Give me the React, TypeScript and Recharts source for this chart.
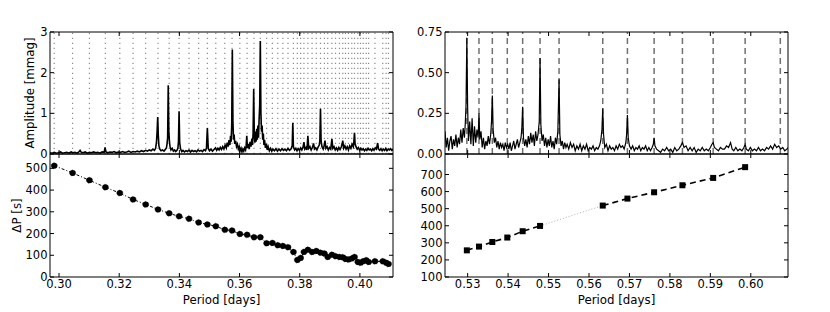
import React from 'react';
import { ComposedChart, Line, XAxis, YAxis, ReferenceLine } from 'recharts';

const FONT = '"DejaVu Sans", sans-serif';

// ---- left panel (P ~ 0.30-0.41 d) ----
const leftPeriods = [
  0.2984, 0.3045, 0.3101, 0.3154, 0.3202, 0.3246, 0.3288, 0.3329, 0.3366, 0.3399,
  0.3432, 0.3464, 0.3493, 0.3521, 0.3551, 0.3575, 0.3601, 0.3625, 0.3648, 0.3669,
  0.369, 0.3709, 0.3727, 0.3744, 0.3761, 0.3779, 0.3792, 0.3803, 0.3814, 0.3827,
  0.3841, 0.3855, 0.3869, 0.3882, 0.3893, 0.3907, 0.3919, 0.3932, 0.3943, 0.3952,
  0.3962, 0.3973, 0.3982, 0.3993, 0.4002, 0.4011, 0.4021, 0.4029, 0.405, 0.4076,
  0.4087, 0.4095,
];
const leftSpacings = [
  512, 479, 445, 413, 386, 357, 334, 311, 293, 279,
  268, 251, 242, 234, 217, 214, 198, 194, 183, 183,
  155, 157, 146, 143, 137, 115, 78, 88, 115, 125,
  115, 120, 112, 108, 92, 102, 96, 92, 91, 83,
  80, 85, 92, 69, 65, 72, 77, 69, 72, 72,
  66, 60,
];
const leftXTicks = [0.3, 0.32, 0.34, 0.36, 0.38, 0.4];
const leftAmpTicks = [0, 1, 2, 3];
const leftDpTicks = [0, 100, 200, 300, 400, 500];

// amplitude spectrum [period, mmag]
const leftSpectrum: [number, number][] = [
  [0.297, 0.03], [0.2977, 0.02], [0.2984, 0.04], [0.2991, 0.02], [0.2998, 0.03], [0.3005, 0.05],
  [0.3012, 0.02], [0.3019, 0.03], [0.3026, 0.04], [0.3033, 0.02], [0.304, 0.05], [0.3046, 0.03],
  [0.3053, 0.04], [0.306, 0.02], [0.3066, 0.05], [0.307, 0.09], [0.3074, 0.04], [0.308, 0.03],
  [0.3087, 0.05], [0.3094, 0.02], [0.3101, 0.04], [0.3108, 0.03], [0.3115, 0.05], [0.3122, 0.03],
  [0.3129, 0.04], [0.3136, 0.02], [0.3143, 0.05], [0.315, 0.04], [0.3153, 0.16], [0.3156, 0.05],
  [0.3162, 0.03], [0.3169, 0.05], [0.3176, 0.04], [0.3183, 0.06], [0.319, 0.03], [0.3197, 0.05],
  [0.3204, 0.04], [0.3211, 0.06], [0.3218, 0.04], [0.3225, 0.05], [0.3232, 0.07], [0.3239, 0.04],
  [0.3246, 0.06], [0.3253, 0.05], [0.326, 0.07], [0.3267, 0.05], [0.3274, 0.08], [0.3281, 0.06],
  [0.3288, 0.09], [0.3294, 0.07], [0.33, 0.1], [0.3306, 0.08], [0.3312, 0.12], [0.3317, 0.09],
  [0.3321, 0.14], [0.3324, 0.3], [0.3326, 0.55], [0.3328, 0.91], [0.333, 0.45], [0.3332, 0.2],
  [0.3335, 0.12], [0.3339, 0.08], [0.3344, 0.1], [0.3349, 0.07], [0.3353, 0.11], [0.3357, 0.15],
  [0.3359, 0.25], [0.3361, 0.4], [0.3363, 1.69], [0.3365, 0.55], [0.3367, 0.3], [0.3369, 0.18],
  [0.3372, 0.1], [0.3376, 0.14], [0.338, 0.07], [0.3384, 0.1], [0.3388, 0.06], [0.3392, 0.09],
  [0.3395, 0.14], [0.3397, 0.3], [0.3399, 1.05], [0.3401, 0.28], [0.3404, 0.12], [0.3408, 0.06],
  [0.3412, 0.09], [0.3417, 0.05], [0.3422, 0.08], [0.3427, 0.06], [0.3432, 0.1], [0.3437, 0.05],
  [0.3442, 0.09], [0.3447, 0.06], [0.3452, 0.08], [0.3457, 0.05], [0.3462, 0.1], [0.3467, 0.07],
  [0.3472, 0.09], [0.3477, 0.06], [0.3482, 0.11], [0.3487, 0.08], [0.349, 0.15], [0.3493, 0.64],
  [0.3496, 0.14], [0.35, 0.08], [0.3505, 0.12], [0.351, 0.07], [0.3515, 0.11], [0.352, 0.15],
  [0.3524, 0.09], [0.3528, 0.14], [0.3532, 0.1], [0.3536, 0.16], [0.354, 0.11], [0.3544, 0.18],
  [0.3548, 0.12], [0.3552, 0.22], [0.3556, 0.15], [0.3559, 0.28], [0.3562, 0.18], [0.3565, 0.34],
  [0.3568, 0.22], [0.357, 0.45], [0.3572, 0.3], [0.3574, 0.7], [0.3576, 2.57], [0.3578, 0.8],
  [0.358, 0.35], [0.3582, 0.48], [0.3584, 0.25], [0.3587, 0.32], [0.359, 0.18], [0.3593, 0.24],
  [0.3596, 0.12], [0.3599, 0.18], [0.3602, 0.08], [0.3605, 0.14], [0.3608, 0.05], [0.3611, 0.12],
  [0.3614, 0.07], [0.3617, 0.15], [0.362, 0.1], [0.3622, 0.2], [0.3624, 0.45], [0.3626, 0.15],
  [0.3629, 0.25], [0.3632, 0.12], [0.3635, 0.3], [0.3638, 0.18], [0.3641, 0.38], [0.3643, 0.22],
  [0.3645, 0.5], [0.3647, 1.6], [0.3649, 0.45], [0.3651, 0.28], [0.3653, 0.55], [0.3655, 0.3],
  [0.3657, 0.62], [0.3659, 0.35], [0.3661, 0.7], [0.3663, 0.4], [0.3665, 0.85], [0.3667, 1.2],
  [0.3669, 2.78], [0.3671, 1.0], [0.3673, 0.55], [0.3675, 0.7], [0.3677, 0.35], [0.3679, 0.5],
  [0.3681, 0.22], [0.3683, 0.35], [0.3686, 0.15], [0.3689, 0.25], [0.3692, 0.1], [0.3695, 0.18],
  [0.3699, 0.08], [0.3703, 0.14], [0.3707, 0.07], [0.3711, 0.12], [0.3716, 0.08], [0.3721, 0.13],
  [0.3726, 0.07], [0.3731, 0.12], [0.3736, 0.08], [0.3741, 0.13], [0.3746, 0.09], [0.3751, 0.12],
  [0.3756, 0.08], [0.3761, 0.14], [0.3766, 0.09], [0.3771, 0.12], [0.3775, 0.2], [0.3777, 0.77],
  [0.3779, 0.18], [0.3783, 0.1], [0.3787, 0.14], [0.3791, 0.08], [0.3795, 0.13], [0.3799, 0.09],
  [0.3803, 0.15], [0.3807, 0.1], [0.3811, 0.17], [0.3814, 0.29], [0.3817, 0.12], [0.3821, 0.16],
  [0.3824, 0.1], [0.3827, 0.45], [0.383, 0.14], [0.3834, 0.18], [0.3838, 0.1], [0.3842, 0.16],
  [0.3846, 0.26], [0.3849, 0.12], [0.3853, 0.15], [0.3857, 0.1], [0.3861, 0.17], [0.3865, 0.22],
  [0.3867, 0.35], [0.3869, 1.11], [0.3871, 0.32], [0.3874, 0.18], [0.3878, 0.12], [0.3881, 0.2],
  [0.3884, 0.33], [0.3887, 0.14], [0.3891, 0.18], [0.3895, 0.1], [0.3899, 0.16], [0.3903, 0.12],
  [0.3907, 0.37], [0.391, 0.14], [0.3914, 0.18], [0.3918, 0.1], [0.3922, 0.15], [0.3926, 0.09],
  [0.393, 0.16], [0.3934, 0.11], [0.3938, 0.17], [0.3941, 0.25], [0.3943, 0.33], [0.3946, 0.14],
  [0.395, 0.2], [0.3954, 0.12], [0.3958, 0.18], [0.3962, 0.1], [0.3966, 0.2], [0.397, 0.14],
  [0.3974, 0.24], [0.3978, 0.18], [0.398, 0.3], [0.3982, 0.52], [0.3984, 0.25], [0.3987, 0.18],
  [0.3991, 0.12], [0.3995, 0.16], [0.3999, 0.09], [0.4003, 0.14], [0.4007, 0.1], [0.4011, 0.13],
  [0.4015, 0.08], [0.4019, 0.12], [0.4023, 0.09], [0.4027, 0.14], [0.4031, 0.1], [0.4035, 0.12],
  [0.4039, 0.08], [0.4043, 0.13], [0.4047, 0.09], [0.4051, 0.15], [0.4055, 0.12], [0.4059, 0.27],
  [0.4062, 0.12], [0.4066, 0.09], [0.407, 0.13], [0.4074, 0.08], [0.4078, 0.12], [0.4082, 0.09],
  [0.4086, 0.14], [0.409, 0.08], [0.4094, 0.12], [0.4098, 0.1], [0.4102, 0.13], [0.4106, 0.09],
  [0.411, 0.12],
];

// ---- right panel (P ~ 0.52-0.61 d) ----
const rightModeLines = [
  0.5298, 0.5328, 0.5361, 0.5398, 0.5436, 0.5479, 0.5526,
  0.5634, 0.5695, 0.5761, 0.5831, 0.5907, 0.5986, 0.6073,
];
const rightPeriods = [
  0.5298, 0.5328, 0.5361, 0.5398, 0.5436, 0.5479,
  0.5634, 0.5695, 0.5761, 0.5831, 0.5907, 0.5986,
];
const rightSpacings = [256, 278, 305, 331, 368, 399, 518, 559, 596, 637, 680, 743];
const rightXTicks = [0.53, 0.54, 0.55, 0.56, 0.57, 0.58, 0.59, 0.6];
const rightAmpTicks = [0, 0.25, 0.5, 0.75];
const rightDpTicks = [100, 200, 300, 400, 500, 600, 700];

const rightSpectrum: [number, number][] = [
  [0.5244, 0.14], [0.5247, 0.04], [0.525, 0.1], [0.5253, 0.02], [0.5256, 0.08], [0.5259, 0.11],
  [0.5262, 0.03], [0.5265, 0.09], [0.5268, 0.05], [0.5271, 0.12], [0.5274, 0.04], [0.5277, 0.1],
  [0.528, 0.06], [0.5283, 0.15], [0.5286, 0.07], [0.5289, 0.16], [0.5292, 0.1], [0.5294, 0.18],
  [0.5296, 0.3], [0.5298, 0.715], [0.53, 0.28], [0.5302, 0.08], [0.5305, 0.2], [0.5308, 0.06],
  [0.5311, 0.22], [0.5314, 0.05], [0.5317, 0.17], [0.532, 0.07], [0.5323, 0.15], [0.5326, 0.1],
  [0.5328, 0.25], [0.533, 0.09], [0.5333, 0.14], [0.5336, 0.04], [0.5339, 0.1], [0.5342, 0.03],
  [0.5345, 0.08], [0.5348, 0.05], [0.5351, 0.11], [0.5354, 0.06], [0.5357, 0.12], [0.5359, 0.2],
  [0.5361, 0.36], [0.5363, 0.15], [0.5366, 0.07], [0.5369, 0.1], [0.5372, 0.04], [0.5375, 0.08],
  [0.5378, 0.03], [0.5381, 0.07], [0.5384, 0.04], [0.5387, 0.06], [0.539, 0.02], [0.5393, 0.07],
  [0.5396, 0.04], [0.5399, 0.06], [0.5402, 0.03], [0.5405, 0.07], [0.5408, 0.02], [0.5411, 0.05],
  [0.5414, 0.08], [0.5417, 0.03], [0.542, 0.06], [0.5423, 0.09], [0.5426, 0.04], [0.5429, 0.07],
  [0.5432, 0.1], [0.5434, 0.16], [0.5436, 0.29], [0.5438, 0.1], [0.5441, 0.05], [0.5444, 0.09],
  [0.5447, 0.04], [0.545, 0.11], [0.5453, 0.06], [0.5456, 0.13], [0.5459, 0.07], [0.5462, 0.12],
  [0.5465, 0.05], [0.5468, 0.14], [0.5471, 0.08], [0.5474, 0.12], [0.5477, 0.2], [0.5479, 0.59],
  [0.5481, 0.18], [0.5484, 0.08], [0.5487, 0.12], [0.549, 0.05], [0.5493, 0.1], [0.5496, 0.04],
  [0.5499, 0.09], [0.5502, 0.05], [0.5505, 0.11], [0.5508, 0.04], [0.5511, 0.08], [0.5514, 0.03],
  [0.5517, 0.1], [0.552, 0.06], [0.5523, 0.14], [0.5526, 0.46], [0.5528, 0.12], [0.5531, 0.05],
  [0.5534, 0.08], [0.5537, 0.03], [0.554, 0.07], [0.5543, 0.04], [0.5546, 0.06], [0.555, 0.03],
  [0.5554, 0.07], [0.5558, 0.04], [0.5562, 0.06], [0.5566, 0.02], [0.557, 0.05], [0.5574, 0.03],
  [0.5578, 0.06], [0.5582, 0.02], [0.5586, 0.05], [0.559, 0.03], [0.5594, 0.06], [0.5598, 0.02],
  [0.5602, 0.04], [0.5606, 0.03], [0.561, 0.05], [0.5614, 0.02], [0.5618, 0.04], [0.5622, 0.03],
  [0.5626, 0.05], [0.5629, 0.08], [0.5632, 0.15], [0.5634, 0.28], [0.5636, 0.12], [0.5639, 0.04],
  [0.5643, 0.06], [0.5647, 0.02], [0.5651, 0.05], [0.5655, 0.03], [0.5659, 0.04], [0.5663, 0.02],
  [0.5667, 0.05], [0.5671, 0.03], [0.5675, 0.06], [0.5679, 0.04], [0.5683, 0.05], [0.5687, 0.03],
  [0.5691, 0.07], [0.5693, 0.12], [0.5695, 0.24], [0.5697, 0.1], [0.57, 0.05], [0.5704, 0.03],
  [0.5708, 0.05], [0.5712, 0.02], [0.5716, 0.04], [0.572, 0.03], [0.5724, 0.05], [0.5728, 0.02],
  [0.5732, 0.04], [0.5736, 0.03], [0.574, 0.05], [0.5744, 0.02], [0.5748, 0.04], [0.5752, 0.02],
  [0.5756, 0.04], [0.5759, 0.06], [0.5761, 0.1], [0.5763, 0.05], [0.5767, 0.03], [0.5772, 0.02],
  [0.5777, 0.01], [0.5782, 0.03], [0.5787, 0.02], [0.5792, 0.04], [0.5797, 0.02], [0.5802, 0.03],
  [0.5807, 0.01], [0.5812, 0.04], [0.5817, 0.02], [0.5822, 0.03], [0.5827, 0.05], [0.5831, 0.07],
  [0.5835, 0.04], [0.584, 0.05], [0.5845, 0.02], [0.585, 0.04], [0.5855, 0.02], [0.586, 0.04],
  [0.5865, 0.01], [0.587, 0.03], [0.5875, 0.02], [0.588, 0.04], [0.5885, 0.02], [0.589, 0.03],
  [0.5895, 0.02], [0.59, 0.04], [0.5904, 0.06], [0.5907, 0.07], [0.591, 0.04], [0.5915, 0.03],
  [0.592, 0.02], [0.5925, 0.04], [0.593, 0.03], [0.5935, 0.03], [0.594, 0.05], [0.5945, 0.04],
  [0.595, 0.07], [0.5954, 0.03], [0.5958, 0.02], [0.5963, 0.04], [0.5968, 0.02], [0.5973, 0.03],
  [0.5978, 0.02], [0.5983, 0.04], [0.5986, 0.06], [0.5989, 0.03], [0.5994, 0.02], [0.5999, 0.04],
  [0.6004, 0.02], [0.6009, 0.03], [0.6014, 0.02], [0.6019, 0.04], [0.6024, 0.02], [0.6029, 0.03],
  [0.6034, 0.02], [0.6039, 0.04], [0.6044, 0.03], [0.6049, 0.05], [0.6054, 0.03], [0.6059, 0.06],
  [0.6064, 0.04], [0.6069, 0.05], [0.6074, 0.03], [0.6079, 0.04], [0.6084, 0.02], [0.6089, 0.03],
  [0.6092, 0.04],
];

const LEFT_X_DOMAIN: [number, number] = [0.297, 0.411];
const RIGHT_X_DOMAIN: [number, number] = [0.5244, 0.6092];

const tickStyle = { fill: '#000', fontSize: 11.5, fontFamily: FONT };
const labelStyle = { textAnchor: 'middle' as const, fill: '#000', fontSize: 11.8, fontFamily: FONT };
const black = { stroke: '#000' };

const NoTick = () => null;

const SquareDot = (props: any) => {
  const { cx, cy, index } = props;
  if (cx == null || cy == null) return null;
  return <rect key={`sq-${index}`} x={cx - 3} y={cy - 3} width={6} height={6} fill="#000" />;
};

interface PanelProps {
  left: number;
  top: number;
  width: number;
  height: number;
  marginTop: number;
  marginRight: number;
  marginBottom: number;
  xDomain: [number, number];
  xTicks: number[];
  showXLabels: boolean;
  yDomain: [number, number];
  yTicks: number[];
  yFormat: (v: number) => string;
  yLabel?: string;
  yLabelOffset?: number;
  children: React.ReactNode;
}

// one matplotlib-style axes box: ticks point inwards on all four sides
const Panel = ({
  left,
  top,
  width,
  height,
  marginTop,
  marginRight,
  marginBottom,
  xDomain,
  xTicks,
  showXLabels,
  yDomain,
  yTicks,
  yFormat,
  yLabel,
  yLabelOffset = 18,
  children,
}: PanelProps) => (
  <div style={{ position: 'absolute', left, top, width, height }}>
    <ComposedChart
      width={width}
      height={height}
      margin={{ top: marginTop, right: marginRight, bottom: marginBottom, left: 0 }}
    >
      <XAxis
        xAxisId="b"
        type="number"
        dataKey="p"
        domain={xDomain}
        ticks={xTicks}
        interval={0}
        allowDataOverflow
        height={showXLabels ? 35 : 1}
        tickSize={-4}
        tickMargin={7}
        axisLine={black}
        tickLine={black}
        tick={showXLabels ? tickStyle : NoTick}
        tickFormatter={(v: number) => v.toFixed(2)}
        label={
          showXLabels
            ? { value: 'Period [days]', position: 'insideBottom', offset: 8, style: labelStyle }
            : undefined
        }
      />
      <XAxis
        xAxisId="t"
        orientation="top"
        type="number"
        dataKey="p"
        domain={xDomain}
        ticks={xTicks}
        interval={0}
        allowDataOverflow
        height={1}
        tickSize={-4}
        axisLine={black}
        tickLine={black}
        tick={NoTick}
      />
      <YAxis
        yAxisId="l"
        type="number"
        domain={yDomain}
        ticks={yTicks}
        interval={0}
        allowDataOverflow
        width={50}
        tickSize={-4}
        tickMargin={6.5}
        axisLine={black}
        tickLine={black}
        tick={tickStyle}
        tickFormatter={yFormat}
        label={
          yLabel
            ? { value: yLabel, angle: -90, position: 'insideLeft', offset: yLabelOffset, style: labelStyle }
            : undefined
        }
      />
      <YAxis
        yAxisId="r"
        orientation="right"
        type="number"
        domain={yDomain}
        ticks={yTicks}
        interval={0}
        allowDataOverflow
        width={1}
        tickSize={-4}
        axisLine={black}
        tickLine={black}
        tick={NoTick}
      />
      {children}
    </ComposedChart>
  </div>
);

const App = () => {
  const leftSpec = leftSpectrum.map(([p, a]) => ({ p, a }));
  const rightSpec = rightSpectrum.map(([p, a]) => ({ p, a }));
  const leftPts = leftPeriods.map((p, i) => ({ p, dp: leftSpacings[i] }));
  const rightPts = rightPeriods.map((p, i) => ({ p, dp: rightSpacings[i] }));
  const rightFirst = rightPts.slice(0, 6);
  const rightGap = rightPts.slice(5, 7);
  const rightSecond = rightPts.slice(6);

  return (
    <div
      style={{
        position: 'absolute',
        left: 0,
        top: 0,
        width: 830,
        height: 312,
        background: '#fff',
        fontFamily: FONT,
      }}
    >
      {/* left: amplitude spectrum */}
      <Panel
        left={0}
        top={0}
        width={400}
        height={160}
        marginTop={31}
        marginRight={6}
        marginBottom={5}
        xDomain={LEFT_X_DOMAIN}
        xTicks={leftXTicks}
        showXLabels={false}
        yDomain={[0, 3]}
        yTicks={leftAmpTicks}
        yFormat={(v) => String(v)}
        yLabel="Amplitude [mmag]"
        yLabelOffset={30}
      >
        {leftPeriods.map((p) => (
          <ReferenceLine
            key={`lv-${p}`}
            xAxisId="b"
            yAxisId="l"
            x={p}
            stroke="#8c8c8c"
            strokeWidth={1.2}
            strokeDasharray="1.2 3.8"
          />
        ))}
        <Line
          xAxisId="b"
          yAxisId="l"
          data={leftSpec}
          dataKey="a"
          type="linear"
          stroke="#000"
          strokeWidth={1.6}
          dot={false}
          isAnimationActive={false}
        />
      </Panel>

      {/* left: period spacing */}
      <Panel
        left={0}
        top={150}
        width={400}
        height={162}
        marginTop={3}
        marginRight={6}
        marginBottom={0}
        xDomain={LEFT_X_DOMAIN}
        xTicks={leftXTicks}
        showXLabels
        yDomain={[0, 566]}
        yTicks={leftDpTicks}
        yFormat={(v) => String(v)}
        yLabel="ΔP [s]"
        yLabelOffset={17}
      >
        <Line
          xAxisId="b"
          yAxisId="l"
          data={leftPts}
          dataKey="dp"
          type="linear"
          stroke="#000"
          strokeWidth={1}
          strokeDasharray="3 2 1 2"
          dot={{ r: 3, fill: '#000', stroke: '#000', strokeWidth: 0.5 }}
          isAnimationActive={false}
        />
      </Panel>

      {/* right: amplitude spectrum */}
      <Panel
        left={395}
        top={0}
        width={435}
        height={160}
        marginTop={31}
        marginRight={41}
        marginBottom={5}
        xDomain={RIGHT_X_DOMAIN}
        xTicks={rightXTicks}
        showXLabels={false}
        yDomain={[0, 0.75]}
        yTicks={rightAmpTicks}
        yFormat={(v) => v.toFixed(2)}
      >
        {rightModeLines.map((p) => (
          <ReferenceLine
            key={`rv-${p}`}
            xAxisId="b"
            yAxisId="l"
            x={p}
            stroke="#707070"
            strokeWidth={1.5}
            strokeDasharray="6 4"
          />
        ))}
        <Line
          xAxisId="b"
          yAxisId="l"
          data={rightSpec}
          dataKey="a"
          type="linear"
          stroke="#000"
          strokeWidth={1.2}
          dot={false}
          isAnimationActive={false}
        />
      </Panel>

      {/* right: period spacing */}
      <Panel
        left={395}
        top={150}
        width={435}
        height={162}
        marginTop={3}
        marginRight={41}
        marginBottom={0}
        xDomain={RIGHT_X_DOMAIN}
        xTicks={rightXTicks}
        showXLabels
        yDomain={[100, 820]}
        yTicks={rightDpTicks}
        yFormat={(v) => String(v)}
      >
        <Line
          xAxisId="b"
          yAxisId="l"
          data={rightGap}
          dataKey="dp"
          type="linear"
          stroke="#999"
          strokeWidth={0.8}
          strokeDasharray="1 2"
          dot={false}
          isAnimationActive={false}
        />
        <Line
          xAxisId="b"
          yAxisId="l"
          data={rightFirst}
          dataKey="dp"
          type="linear"
          stroke="#000"
          strokeWidth={1.6}
          strokeDasharray="6 4"
          dot={SquareDot}
          isAnimationActive={false}
        />
        <Line
          xAxisId="b"
          yAxisId="l"
          data={rightSecond}
          dataKey="dp"
          type="linear"
          stroke="#000"
          strokeWidth={1.6}
          strokeDasharray="6 4"
          dot={SquareDot}
          isAnimationActive={false}
        />
      </Panel>
    </div>
  );
};

export default App;
